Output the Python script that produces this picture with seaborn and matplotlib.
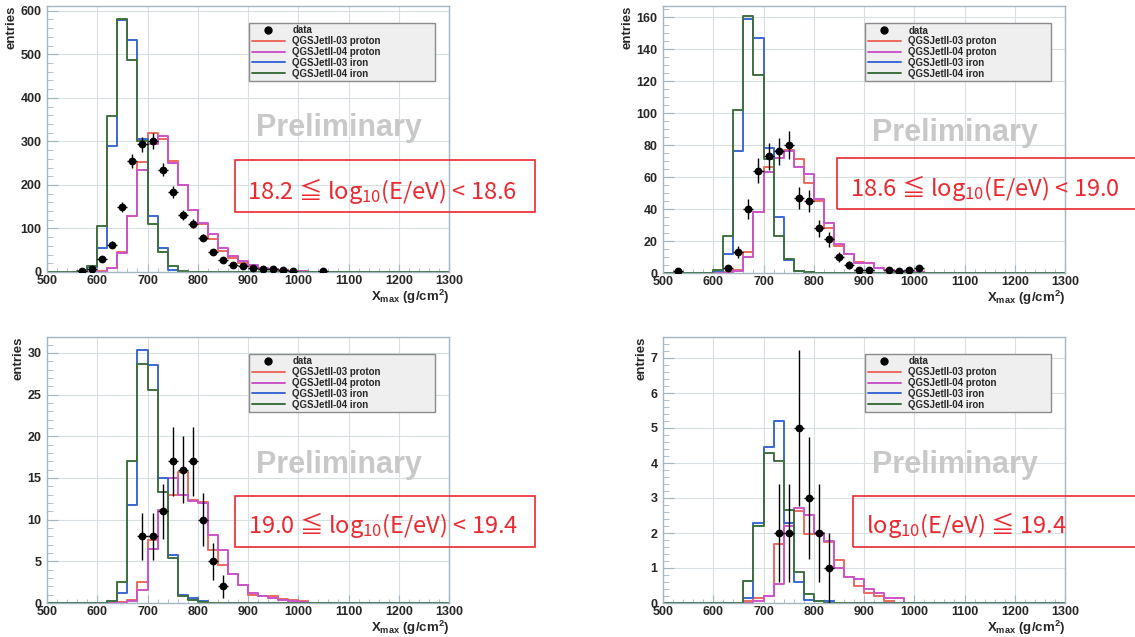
import numpy as np
import pandas as pd
import matplotlib
matplotlib.use("Agg")
import matplotlib.pyplot as plt
from matplotlib.lines import Line2D
from matplotlib.patches import Rectangle
from matplotlib.ticker import MultipleLocator, FormatStrFormatter
import seaborn as sns

sns.set_style("white")
plt.rcParams['font.family'] = ['Liberation Sans', 'DejaVu Sans']
plt.rcParams['mathtext.default'] = 'regular'

# ---- data (bins of 20 g/cm2 starting at 500; trailing bins are zero) ----
edges = list(range(500, 1320, 20))
centers = [e + 10 for e in edges[:-1]]

model_names = ['QGSJetII-03 proton', 'QGSJetII-04 proton', 'QGSJetII-03 iron', 'QGSJetII-04 iron']
model_colors = ['#ec6a5e', '#cc55c8', '#3a68d4', '#3f7040']

# panel 1: 18.2 <= lgE < 18.6
red1 = [0, 0, 0, 0, 0, 2, 10, 45, 128, 252, 319, 305, 255, 199, 143, 110, 75, 48, 32, 20,
        14, 8, 6, 4, 3, 2, 1, 1, 0.5]
mag1 = [0, 0, 0, 0, 0, 1, 10, 44, 128, 234, 293, 312, 250, 199, 143, 112, 88, 55, 37, 25,
        15, 9, 7, 4, 3, 2, 1, 1, 0.5]
blue1 = [0, 0, 0, 1, 12, 54, 290, 578, 534, 306, 129, 56, 5, 1]
green1 = [0, 0, 0, 2, 14, 105, 358, 580, 487, 300, 110, 46, 14, 2]
data1_x = [570, 590, 610, 630, 650, 670, 690, 710, 730, 750, 770, 790, 810, 830, 850, 870,
           890, 910, 930, 950, 970, 990, 1050]
data1_y = [2, 8, 30, 63, 149, 256, 293, 301, 235, 183, 132, 111, 79, 45, 28, 15,
           13, 9, 7, 7, 4, 2, 2]

# panel 2: 18.6 <= lgE < 19.0
red2 = [0, 0, 0, 0, 0, 0, 0.5, 2, 13, 38, 66, 76, 77, 71, 56, 45, 28, 17, 12, 7,
        6, 3, 2, 1.5, 1, 0.6, 0.3]
mag2 = [0, 0, 0, 0, 0, 0, 0, 1, 10, 38, 63, 72, 76, 66, 62, 46, 31, 18, 12, 6,
        6, 3, 2, 1, 1, 0.5]
blue2 = [0, 0, 0, 0, 0, 1, 12, 76, 159, 147, 78, 35, 8, 1, 0.5]
green2 = [0, 0, 0, 0, 0, 2, 23, 102, 161, 124, 71, 23, 9, 1, 0.5]
data2_x = [530, 630, 650, 670, 690, 710, 730, 750, 770, 790, 810, 830, 850, 870, 890, 910,
           950, 970, 990, 1010]
data2_y = [1, 3, 13, 40, 64, 73, 76, 80, 47, 45, 28, 21, 10, 5, 2, 2, 2, 1, 2, 3]

# panel 3: 19.0 <= lgE < 19.4
red3 = [0, 0, 0, 0, 0, 0, 0, 0.1, 0.4, 2.5, 7.6, 11, 13, 15.7, 12.3, 12.1, 6.4, 4.5, 3.5, 2.2,
        1, 0.8, 0.8, 0.5, 0.3, 0.2, 0.05]
mag3 = [0, 0, 0, 0, 0, 0, 0, 0, 0.2, 1.5, 6.5, 11.2, 15, 13, 12.2, 12, 8.1, 6.3, 3.5, 2.2,
        1.2, 0.8, 0.6, 0.4, 0.2, 0.1]
blue3 = [0, 0, 0, 0, 0, 0, 0.2, 1.2, 11.7, 30.3, 28.5, 15, 5.7, 1, 0.6, 0.2]
green3 = [0, 0, 0, 0, 0, 0, 0.2, 2.5, 17, 28.7, 25.6, 13.3, 5.4, 0.8, 0.4, 0.1]
data3_x = [690, 710, 730, 750, 770, 790, 810, 830, 850]
data3_y = [8, 8, 11, 17, 16, 17, 10, 5, 2]

# panel 4: lgE >= 19.4
red4 = [0, 0, 0, 0, 0, 0, 0, 0, 0.05, 0.15, 0.2, 1.7, 2.3, 2.62, 1.97, 1.97, 1.75, 1.22, 0.75, 0.5,
        0.3, 0.2, 0.05]
mag4 = [0, 0, 0, 0, 0, 0, 0, 0, 0, 0.05, 0.2, 0.55, 2.2, 2.72, 2.52, 2.0, 1.77, 1.0, 0.75, 0.7,
        0.4, 0.3, 0.15, 0.15]
blue4 = [0, 0, 0, 0, 0, 0, 0, 0, 0.15, 2.3, 4.45, 5.2, 2.3, 0.6, 0.08, 0.05, 0.05]
green4 = [0, 0, 0, 0, 0, 0, 0, 0, 0.63, 2.2, 4.28, 4.05, 2.65, 0.9, 0.25, 0.05]
data4_x = [730, 750, 770, 790, 810, 830]
data4_y = [2, 2, 5, 3, 2, 1]

energy_labels = ["18.2 ≦ log$_{10}$(E/eV) < 18.6",
                 "18.6 ≦ log$_{10}$(E/eV) < 19.0",
                 "19.0 ≦ log$_{10}$(E/eV) < 19.4",
                 "log$_{10}$(E/eV) ≦ 19.4"]

panels = [
    dict(models=[red1, mag1, blue1, green1], dx=data1_x, dy=data1_y, ymax=611, major=100, minor=20),
    dict(models=[red2, mag2, blue2, green2], dx=data2_x, dy=data2_y, ymax=167, major=20, minor=5),
    dict(models=[red3, mag3, blue3, green3], dx=data3_x, dy=data3_y, ymax=31.9, major=5, minor=1),
    dict(models=[red4, mag4, blue4, green4], dx=data4_x, dy=data4_y, ymax=7.6, major=1, minor=0.2),
]

# ---- layout (pixels) ----
W, H = 1135, 637
fig = plt.figure(figsize=(W / 100, H / 100), dpi=100)
ax_px = [(47, 6, 449, 272), (663, 6, 1065, 273), (47, 337, 449, 603), (663, 337, 1065, 603)]
box_px = [(235, 160, 535, 212), (837, 158, 1145, 209), (235, 496, 535, 547), (853, 496, 1145, 547)]
text_px = [(247, 199), (850, 196), (248, 533), (866, 533)]
prelim_y = [0.54, 0.525, 0.52, 0.52]

frame_col = '#a3b6c2'
red = '#ea2a30'
tick_font = dict(family='Liberation Sans', weight='bold', size=9)

for i, p in enumerate(panels):
    l, t, r, b = ax_px[i]
    ax = fig.add_axes([l / W, 1 - b / H, (r - l) / W, (b - t) / H])

    for vals, col in zip(p['models'], model_colors):
        w = list(vals) + [0] * (len(centers) - len(vals))
        df = pd.DataFrame({'xmax': centers, 'w': w})
        sns.histplot(data=df, x='xmax', weights='w', bins=edges, element='step',
                     fill=False, color=col, linewidth=1.4, ax=ax)

    dx = np.array(p['dx'])
    dy = np.array(p['dy'], dtype=float)
    ax.errorbar(dx, dy, yerr=np.sqrt(dy), xerr=10, fmt='o', color='black', ms=4.6,
                elinewidth=1, capsize=0, zorder=5)

    ax.set_xlim(500, 1300)
    ax.set_ylim(0, p['ymax'])
    ax.xaxis.set_major_locator(MultipleLocator(100))
    ax.xaxis.set_minor_locator(MultipleLocator(20))
    ax.yaxis.set_major_locator(MultipleLocator(p['major']))
    ax.yaxis.set_minor_locator(MultipleLocator(p['minor']))
    ax.yaxis.set_major_formatter(FormatStrFormatter('%d'))
    ax.grid(True, which='major', color='#d9dfe3', linewidth=0.8)
    ax.set_axisbelow(True)
    for s in ax.spines.values():
        s.set_color(frame_col)
        s.set_linewidth(1.0)
    ax.tick_params(axis='both', which='both', direction='in', color=frame_col,
                   top=False, right=False, bottom=True, left=True)
    ax.tick_params(axis='y', which='major', length=8, pad=4)
    ax.tick_params(axis='y', which='minor', length=4)
    ax.tick_params(axis='x', which='major', length=6, pad=2)
    ax.tick_params(axis='x', which='minor', length=3)
    for lab in ax.get_xticklabels() + ax.get_yticklabels():
        lab.set_fontproperties(tick_font)

    ax.set_xlabel('X$_{max}$ (g/cm$^{2}$)', loc='right', labelpad=1,
                  fontdict=dict(family='Liberation Sans', weight='bold', size=9.5))
    ax.set_ylabel('entries', loc='top', labelpad=2,
                  fontdict=dict(family='Liberation Sans', weight='bold', size=9.5))

    ax.text(0.727, prelim_y[i], 'Preliminary', transform=ax.transAxes, ha='center',
            va='center', fontsize=22, fontweight='bold', color='#c8c8c8',
            family='Liberation Sans', zorder=2)

    handles = [Line2D([], [], marker='o', ls='none', color='black', ms=5, label='data')]
    handles += [Line2D([], [], color=c, lw=1.4, label=n) for n, c in zip(model_names, model_colors)]
    leg = ax.legend(handles=handles, loc='upper left', bbox_to_anchor=(0.503, 0.726, 0.462, 0.21),
                    mode='expand', prop=dict(family='Liberation Sans', weight='bold', size=7),
                    frameon=True, fancybox=False, facecolor='#efefef', edgecolor='#8c8c8c',
                    framealpha=1, handlelength=3.4, handletextpad=0.8, labelspacing=0.08,
                    borderpad=0.25, borderaxespad=0)
    leg.get_frame().set_linewidth(1.0)

    bl, bt, br, bb = box_px[i]
    fig.add_artist(Rectangle((bl / W, 1 - bb / H), (br - bl) / W, (bb - bt) / H,
                             transform=fig.transFigure, fill=False, edgecolor=red, lw=1.2))
    tx, ty = text_px[i]
    fig.text(tx / W, 1 - ty / H, energy_labels[i], color=red, fontsize=17,
             family='Noto Sans CJK JP', ha='left', va='baseline')

fig.savefig('out.png', dpi=100)
